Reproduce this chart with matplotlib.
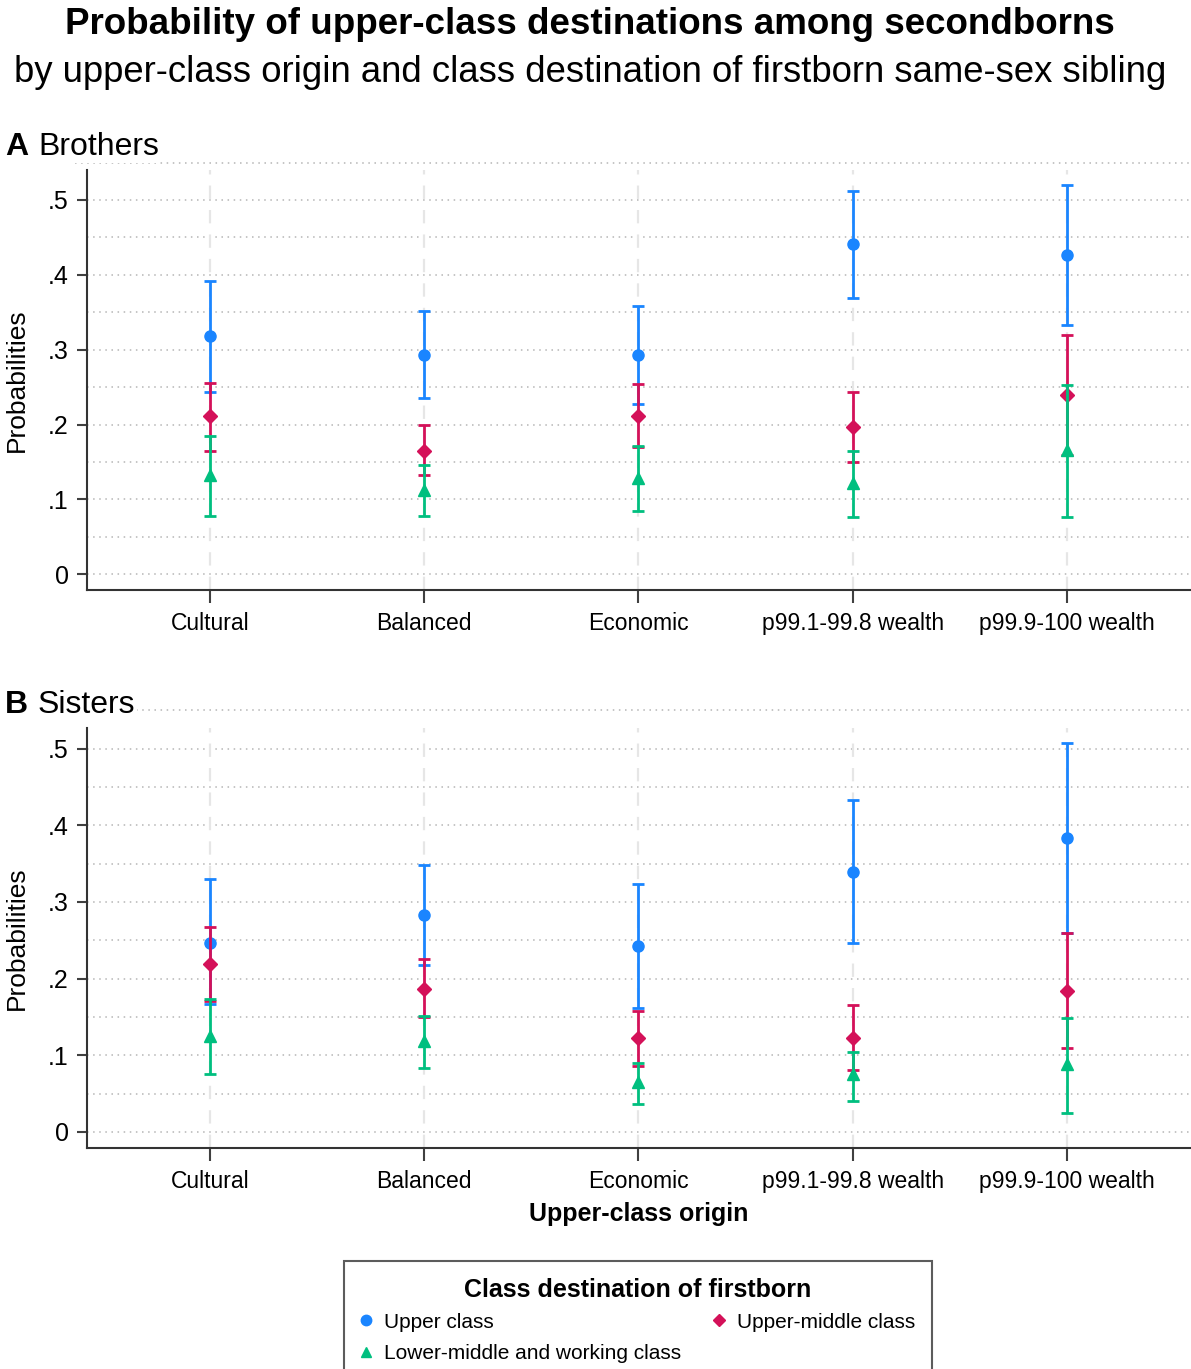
import numpy as np
import matplotlib
matplotlib.use('Agg')
import matplotlib.pyplot as plt
from matplotlib.lines import Line2D

plt.rcParams['font.family'] = ['Liberation Sans', 'DejaVu Sans']

categories = ['Cultural', 'Balanced', 'Economic', 'p99.1-99.8 wealth', 'p99.9-100 wealth']
series = ['Upper class', 'Upper-middle class', 'Lower-middle and working class']

# Brothers: point estimate, lower, upper
bro_upper = [0.318, 0.293, 0.293, 0.441, 0.427]
bro_upper_lo = [0.244, 0.236, 0.228, 0.369, 0.333]
bro_upper_hi = [0.392, 0.351, 0.358, 0.512, 0.520]
bro_umid = [0.211, 0.165, 0.212, 0.197, 0.239]
bro_umid_lo = [0.165, 0.133, 0.170, 0.150, 0.159]
bro_umid_hi = [0.256, 0.199, 0.254, 0.243, 0.319]
bro_low = [0.132, 0.113, 0.129, 0.122, 0.166]
bro_low_lo = [0.078, 0.078, 0.084, 0.076, 0.076]
bro_low_hi = [0.185, 0.146, 0.172, 0.165, 0.253]

# Sisters
sis_upper = [0.247, 0.283, 0.242, 0.339, 0.383]
sis_upper_lo = [0.167, 0.218, 0.162, 0.247, 0.259]
sis_upper_hi = [0.330, 0.348, 0.324, 0.433, 0.507]
sis_umid = [0.219, 0.187, 0.122, 0.123, 0.184]
sis_umid_lo = [0.171, 0.150, 0.086, 0.081, 0.109]
sis_umid_hi = [0.268, 0.225, 0.158, 0.166, 0.259]
sis_low = [0.125, 0.118, 0.065, 0.075, 0.088]
sis_low_lo = [0.075, 0.083, 0.037, 0.040, 0.025]
sis_low_hi = [0.174, 0.151, 0.090, 0.104, 0.148]

colors = ['#1a85ff', '#d41159', '#00bf7f']
markers = ['o', 'D', '^']
msizes = [8, 7, 8]

W, H = 1191, 1369
fig = plt.figure(figsize=(W / 100, H / 100), dpi=100)


def px_axes(left, top, right, bottom):
    return fig.add_axes([left / W, 1 - bottom / H, (right - left) / W, (bottom - top) / H])


def draw_panel(ax, data, ytop, letter, name, label_y):
    x = np.arange(len(categories))
    ax.set_xlim(-0.575, 4.58)
    ax.set_ylim(-0.021, ytop)
    for v in np.arange(0, 0.51, 0.05):
        ax.axhline(v, color='#b5b5b5', lw=1.1, ls=(0, (1, 3)), zorder=0)
    ax.axhline(0.55, xmin=-0.011, xmax=1, color='#b5b5b5', lw=1.1, ls=(0, (1, 3)),
               zorder=0, clip_on=False)
    for xi in x:
        ax.axvline(xi, color='#e6e6e6', lw=1.6, ls=(0, (6, 5)), zorder=0)
    for i, (est, lo, hi) in enumerate(data):
        est = np.array(est)
        err = [est - np.array(lo), np.array(hi) - est]
        ax.errorbar(x, est, yerr=err, fmt=markers[i], color=colors[i], ms=msizes[i],
                    elinewidth=2, capsize=4, capthick=2, zorder=3 + i)
    ax.set_xticks(x)
    ax.set_xticklabels(categories, fontsize=16.5)
    ax.set_yticks([0, 0.1, 0.2, 0.3, 0.4, 0.5])
    ax.set_yticklabels(['0', '.1', '.2', '.3', '.4', '.5'], fontsize=18)
    ax.tick_params(axis='x', length=9, width=1.5, color='#404040', pad=7)
    ax.tick_params(axis='y', length=7, width=1.5, color='#404040', pad=6)
    for s in ['top', 'right']:
        ax.spines[s].set_visible(False)
    for s in ['left', 'bottom']:
        ax.spines[s].set_linewidth(1.5)
        ax.spines[s].set_color('#333333')
    ax.set_ylabel('Probabilities', fontsize=19, labelpad=14)
    fig.text(5 / W, 1 - label_y / H, letter, fontsize=23, fontweight='bold',
             va='center', ha='left')
    fig.text(38 / W, 1 - label_y / H, name, fontsize=23, va='center', ha='left',
             bbox=dict(facecolor='white', edgecolor='none', pad=1))


axA = px_axes(87, 170, 1191, 590)
draw_panel(axA, [(bro_upper, bro_upper_lo, bro_upper_hi),
                 (bro_umid, bro_umid_lo, bro_umid_hi),
                 (bro_low, bro_low_lo, bro_low_hi)], 0.540, 'A', 'Brothers', 147)

axB = px_axes(87, 728, 1191, 1148)
draw_panel(axB, [(sis_upper, sis_upper_lo, sis_upper_hi),
                 (sis_umid, sis_umid_lo, sis_umid_hi),
                 (sis_low, sis_low_lo, sis_low_hi)], 0.527, 'B', 'Sisters', 705)
axB.set_xlabel('Upper-class origin', fontsize=18, fontweight='bold', labelpad=6)

fig.text(590 / W, 1 - 24 / H, 'Probability of upper-class destinations among secondborns',
         fontsize=26.5, fontweight='bold', ha='center', va='center')
fig.text(590 / W, 1 - 72 / H, 'by upper-class origin and class destination of firstborn same-sex sibling',
         fontsize=26.3, ha='center', va='center')

handles = [Line2D([], [], ls='none', marker=markers[i], color=colors[i], ms=msizes[i] - 0.5)
           for i in range(3)]
# order so that row 1 holds Upper / Upper-middle and row 2 Lower-middle
order = [0, 2, 1]
leg = fig.legend([handles[i] for i in order], [series[i] for i in order],
                 loc='upper center', bbox_to_anchor=(638 / W, 1 - 1261 / H), ncol=2,
                 fontsize=15, title='Class destination of firstborn',
                 title_fontproperties={'weight': 'bold', 'size': 18},
                 frameon=True, fancybox=False, edgecolor='#333333',
                 handletextpad=0.6, handlelength=0.5, columnspacing=1.6,
                 borderpad=0.8, labelspacing=0.6, borderaxespad=0)
leg.get_frame().set_linewidth(1.5)
leg._legend_box.sep = 8

fig.savefig('out.png', dpi=100)
